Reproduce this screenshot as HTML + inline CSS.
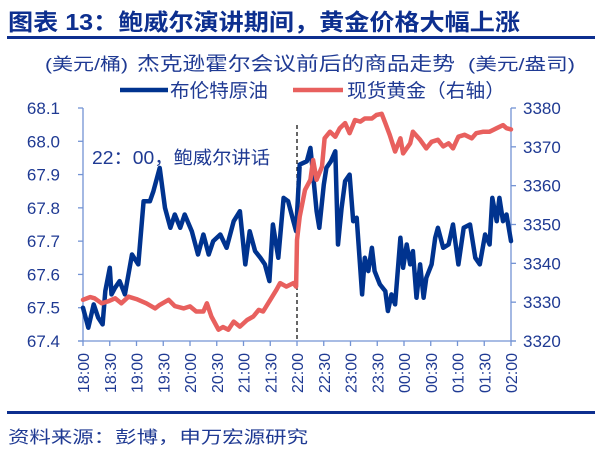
<!DOCTYPE html>
<html><head><meta charset="utf-8"><style>
html,body{margin:0;padding:0;background:#fff;}
svg{display:block;font-family:"Liberation Sans","Noto Sans CJK SC",sans-serif;}
</style></head><body>
<svg id="chart" width="602" height="452" viewBox="0 0 602 452">
<text x="8" y="30" font-size="23" font-weight="bold" fill="#0d2f8f" textLength="512" lengthAdjust="spacingAndGlyphs">图表 13：鲍威尔演讲期间，黄金价格大幅上涨</text>
<rect x="7" y="36" width="588" height="3" fill="#0d2f8f"/>
<text x="45" y="70" font-size="17" fill="#1f3a93" textLength="83" lengthAdjust="spacingAndGlyphs">(美元/桶)</text>
<text x="137" y="70" font-size="19" fill="#1f3a93" textLength="318" lengthAdjust="spacingAndGlyphs">杰克逊霍尔会议前后的商品走势</text>
<text x="468" y="70" font-size="17" fill="#1f3a93" textLength="107" lengthAdjust="spacingAndGlyphs">(美元/盎司)</text>
<g>
<line x1="120" y1="90" x2="168" y2="90" stroke="#00338f" stroke-width="4.5"/>
<text x="170" y="97" font-size="19" fill="#1f3a93" textLength="98" lengthAdjust="spacingAndGlyphs">布伦特原油</text>
</g>
<g>
<line x1="293" y1="90" x2="343" y2="90" stroke="#e8605e" stroke-width="4.5"/>
<text x="347" y="97" font-size="19" fill="#1f3a93" textLength="158" lengthAdjust="spacingAndGlyphs">现货黄金（右轴）</text>
</g>
<g id="axes"></g>
<g id="series"></g>
<text x="92" y="164" font-size="18" fill="#1f3a93" textLength="178" lengthAdjust="spacingAndGlyphs">22：00，鲍威尔讲话</text>
<rect x="7" y="411" width="588" height="3" fill="#0d2f8f"/>
<text x="8" y="443" font-size="17" fill="#1f3a93" textLength="300" lengthAdjust="spacingAndGlyphs">资料来源：彭博，申万宏源研究</text>
</svg>
<script>
const xTickLabels = ["18:00","18:30","19:00","19:30","20:00","20:30","21:00","21:30","22:00","22:30","23:00","23:30","00:00","00:30","01:00","01:30","02:00"];
const leftTicks = [67.4,67.5,67.6,67.7,67.8,67.9,68.0,68.1];
const rightTicks = [3320,3330,3340,3350,3360,3370,3380];
const eventMinute = 240;
const oilMinutes = [0,6,12,17,22,25,30,32,36,41,47,55,62,68,75,79,86,92,98,103,109,114,122,129,135,141,146,154,161,169,176,182,187,193,199,204,209,213,219,225,230,236,239,243,251,255,258,262,265,270,273,278,283,286,290,294,299,303,307,313,316,320,324,327,333,339,342,346,350,356,359,363,367,370,374,378,382,385,391,395,398,404,410,415,421,427,434,440,445,451,456,459,464,467,471,475,480];
const oilValues = [67.50,67.44,67.51,67.47,67.45,67.55,67.62,67.54,67.56,67.58,67.54,67.66,67.63,67.82,67.82,67.85,67.92,67.80,67.74,67.78,67.74,67.78,67.73,67.66,67.72,67.66,67.70,67.72,67.68,67.76,67.79,67.63,67.73,67.67,67.65,67.63,67.58,67.75,67.65,67.83,67.82,67.76,67.73,67.93,67.94,67.98,67.90,67.79,67.74,67.87,67.92,67.94,67.97,67.69,67.80,67.88,67.90,67.76,67.77,67.54,67.65,67.61,67.68,67.61,67.57,67.55,67.49,67.54,67.51,67.71,67.62,67.69,67.63,67.67,67.53,67.63,67.53,67.59,67.63,67.71,67.74,67.68,67.69,67.75,67.63,67.74,67.75,67.65,67.63,67.72,67.69,67.83,67.76,67.83,67.76,67.78,67.70];
const goldMinutes = [0,8,13,21,28,36,43,51,60,71,81,86,96,103,113,120,127,135,139,144,152,157,163,169,176,184,191,197,202,210,217,221,228,236,239,240,243,249,255,258,262,268,271,277,283,288,294,299,305,311,316,324,329,335,339,344,350,356,359,367,370,378,385,391,398,404,410,415,421,428,436,441,449,456,464,471,475,480];
const goldValues = [3330.6,3331.3,3331.0,3329.7,3330.2,3331.0,3329.7,3331.4,3330.8,3329.7,3328.4,3329.3,3330.6,3329.0,3328.4,3328.9,3327.6,3327.6,3329.7,3326.3,3322.9,3323.6,3322.9,3325.0,3323.7,3325.4,3326.3,3328.0,3327.6,3330.6,3333.2,3334.9,3334.0,3334.9,3334.0,3346.0,3352.0,3358.9,3361.5,3366.6,3361.5,3364.9,3372.2,3373.9,3372.6,3374.8,3376.1,3373.5,3376.9,3376.5,3377.3,3377.3,3378.2,3378.5,3376.1,3373.1,3368.8,3372.2,3368.3,3370.9,3373.9,3371.8,3369.6,3371.3,3371.8,3370.1,3370.9,3369.6,3372.6,3373.1,3372.2,3373.5,3373.9,3373.9,3374.8,3375.6,3374.8,3374.5];

const NS="http://www.w3.org/2000/svg";
const X0=83,X1=511,YT=108,YB=341;
const xScale=m=>X0+(X1-X0)*m/480;
const yLeft=v=>YB-(v-67.4)/(68.1-67.4)*(YB-YT);
const yRight=v=>YB-(v-3320)/(3380-3320)*(YB-YT);
function mk(tag,attrs,parent){const e=document.createElementNS(NS,tag);for(const k in attrs)e.setAttribute(k,attrs[k]);parent.appendChild(e);return e;}
const axes=document.getElementById('axes');
const series=document.getElementById('series');
const axisColor="#7393d4", labelColor="#1f3a93";

const la=mk('line',{x1:X0,y1:YT,x2:X0,y2:YB,stroke:axisColor,'stroke-width':1.3},axes);


const ra=mk('line',{x1:X1,y1:YT,x2:X1,y2:YB,stroke:axisColor,'stroke-width':1.3},axes);


const xa=mk('line',{x1:X0-5,y1:YB,x2:X1+5,y2:YB,stroke:axisColor,'stroke-width':1.3},axes);



leftTicks.forEach(v=>{
  const y=yLeft(v);
  mk('line',{x1:X0-5,y1:y,x2:X0,y2:y,stroke:axisColor,'stroke-width':1.3},axes);
  const t=mk('text',{x:60,y:y+6,'font-size':17,fill:labelColor,'text-anchor':'end'},axes);
  t.textContent=v.toFixed(1);
  
  
});
rightTicks.forEach(v=>{
  const y=yRight(v);
  mk('line',{x1:X1,y1:y,x2:X1+5,y2:y,stroke:axisColor,'stroke-width':1.3},axes);
  const t=mk('text',{x:523,y:y+6,'font-size':17,fill:labelColor},axes);
  t.textContent=String(v);
  
  
});
xTickLabels.forEach((lab,i)=>{
  const x=xScale(i*30);
  mk('line',{x1:x,y1:YB,x2:x,y2:YB+5,stroke:axisColor,'stroke-width':1.3},axes);
  const t=mk('text',{x:0,y:0,'font-size':16,fill:labelColor,'text-anchor':'end',transform:`translate(${x+6},353) rotate(-90)`},axes);
  t.textContent=lab;
  
  
});
const ev=mk('line',{x1:xScale(eventMinute),y1:125,x2:xScale(eventMinute),y2:YB,stroke:'#000','stroke-width':1.2,'stroke-dasharray':'4,3'},axes);



const oilPts=oilMinutes.map((m,i)=>xScale(m).toFixed(1)+','+yLeft(oilValues[i]).toFixed(1)).join(' ');
const oil=mk('polyline',{points:oilPts,fill:'none',stroke:'#00338f','stroke-width':4.5,'stroke-linejoin':'round','stroke-linecap':'round'},series);


const goldPts=goldMinutes.map((m,i)=>xScale(m).toFixed(1)+','+yRight(goldValues[i]).toFixed(1)).join(' ');
const gold=mk('polyline',{points:goldPts,fill:'none',stroke:'#e8605e','stroke-width':4.5,'stroke-linejoin':'round','stroke-linecap':'round'},series);


</script>
</body></html>
